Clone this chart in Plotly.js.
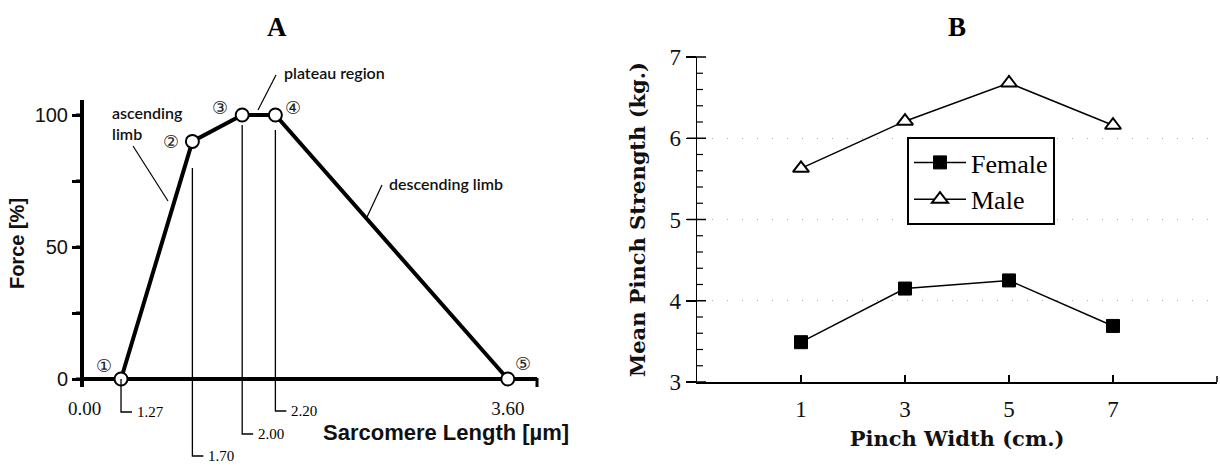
<!DOCTYPE html>
<html><head><meta charset="utf-8">
<script src="https://cdn.plot.ly/plotly-3.0.1.min.js"></script>
<style>html,body{margin:0;padding:0;background:#fff}#chart{width:1220px;height:466px}</style>
</head><body><div id="chart"></div>
<script>
// ---------- Panel A data ----------
const sarcomereLength = [1.27, 1.70, 2.00, 2.20, 3.60];
const forcePct = [0, 90, 100, 100, 0];
const pointLabels = ['①', '②', '③', '④', '⑤'];
const dropLabels = ['1.27', '1.70', '2.00', '2.20'];
const xTickTextA = ['0.00', '3.60'];
const yTickValsA = [0, 25, 50, 75, 100];
const yTickTextA = ['0', '', '50', '', '100'];
// ---------- Panel B data ----------
const pinchWidth = [1, 3, 5, 7];
const femaleStrength = [3.49, 4.15, 4.25, 3.69];
const maleStrength = [5.63, 6.21, 6.68, 6.16];
const yTickValsB = [3, 4, 5, 6, 7];
const yMinorValsB = [3.2, 3.4, 3.6, 3.8, 4.2, 4.4, 4.6, 4.8, 5.2, 5.4, 5.6, 5.8, 6.2, 6.4, 6.6, 6.8];

const W = 1220, H = 466;
const px = v => v / W;
const py = v => 1 - v / H;

const serif = 'Liberation Serif, Times New Roman, serif';
const serifB = 'DejaVu Serif, Liberation Serif, serif';
const sans = 'Liberation Sans, Arial, sans-serif';
const human = 'Lato, Open Sans, sans-serif';
const circ = 'DejaVu Sans, Noto Sans CJK JP, sans-serif';

const xA0 = 1.047, xA1 = 3.776;
const yRangeA = [-3.03, 105.68], yDomA = [py(387), py(100)];
const yRangeB = [3, 7], yDomB = [py(382), py(57)];
const xRangeB = [-1, 9], xDomB = [px(697), px(1217)];
const toDom = (v, r, d) => d[0] + (v - r[0]) / (r[1] - r[0]) * (d[1] - d[0]);

const traces = [
  {x: sarcomereLength, y: forcePct, xaxis: 'x', yaxis: 'y', mode: 'lines+markers',
   line: {color: '#000', width: 4}, showlegend: false, hoverinfo: 'skip',
   marker: {symbol: 'circle', size: 13, color: '#fff', line: {color: '#000', width: 2}}},
  {x: pinchWidth, y: femaleStrength, xaxis: 'x2', yaxis: 'y2', mode: 'lines+markers', name: 'Female',
   line: {color: '#000', width: 1.5},
   marker: {symbol: 'square', size: 13, color: '#000', line: {color: '#000', width: 1}}},
  {x: pinchWidth, y: maleStrength, xaxis: 'x2', yaxis: 'y2', mode: 'lines+markers', name: 'Male',
   line: {color: '#000', width: 1.5},
   marker: {symbol: 'triangle-up', size: 14, color: '#fff', line: {color: '#000', width: 2}}}
];

const shapes = [];
const annotations = [];

// tick marks (axis decoration), positioned from the axes' ranges and domains
const tickLine = (x0, x1, y0, y1, w) =>
  shapes.push({type: 'line', xref: 'paper', yref: 'paper', x0, x1, y0, y1, line: {color: '#000', width: w}});
yTickValsA.forEach(v => { const y = toDom(v, yRangeA, yDomA); tickLine(px(76), px(84), y, y, 3); });
yTickValsB.forEach(v => { const y = toDom(v, yRangeB, yDomB); tickLine(px(687), px(706), y, y, 1.5); });
yMinorValsB.forEach(v => { const y = toDom(v, yRangeB, yDomB); tickLine(px(697), px(703), y, y, 1.2); });
pinchWidth.forEach(v => { const x = toDom(v, xRangeB, xDomB); tickLine(x, x, py(382), py(375), 1.5); });
tickLine(px(1217), px(1217), py(382), py(376), 1.5);
// small end tick of the x axis in A
tickLine(px(537), px(537), py(378), py(387), 3);

// drop lines (vertical + hook) from each length value
const dropTop = [379, 168, 125, 130];
const dropBot = [412, 456, 434, 411];
const hook = 0.066;
dropLabels.forEach((lab, i) => {
  const xv = sarcomereLength[i];
  shapes.push({type: 'path', xref: 'x', yref: 'paper',
    path: `M ${xv},${py(dropTop[i])} L ${xv},${py(dropBot[i])} L ${xv + hook},${py(dropBot[i])}`,
    line: {color: '#000', width: 1.3}});
  annotations.push({xref: 'x', yref: 'paper', x: xv + hook, y: py(dropBot[i]), text: lab,
    showarrow: false, xanchor: 'left', yanchor: 'middle', xshift: 3,
    font: {family: serif, size: 15, color: '#000'}});
});

// circled point labels
const shiftX = [-17, -21, -22, 18, 15];
const shiftY = [14, 0, 8, 8, 16];
pointLabels.forEach((lab, i) => {
  annotations.push({xref: 'x', yref: 'y', x: sarcomereLength[i], y: forcePct[i], text: lab,
    showarrow: false, xshift: shiftX[i], yshift: shiftY[i],
    font: {family: circ, size: 18, color: '#222'}});
});

// leader lines for region notes
[[133, 146, 168, 201], [276, 75, 258, 110], [382, 185, 367, 217]].forEach(s => {
  shapes.push({type: 'line', xref: 'paper', yref: 'paper', x0: px(s[0]), y0: py(s[1]), x1: px(s[2]), y1: py(s[3]),
    line: {color: '#000', width: 1.2}});
});

const noteFont = {family: human, size: 16, color: '#111', weight: 600};
annotations.push(
  {xref: 'paper', yref: 'paper', x: px(110), y: py(123), text: 'ascending<br>limb', align: 'left',
   showarrow: false, xanchor: 'left', yanchor: 'middle', font: noteFont},
  {xref: 'paper', yref: 'paper', x: px(282), y: py(72), text: 'plateau region',
   showarrow: false, xanchor: 'left', yanchor: 'middle', font: noteFont},
  {xref: 'paper', yref: 'paper', x: px(387), y: py(183), text: 'descending limb',
   showarrow: false, xanchor: 'left', yanchor: 'middle', font: noteFont},
  {xref: 'paper', yref: 'paper', x: px(446), y: py(432), text: 'Sarcomere Length [µm]',
   showarrow: false, xanchor: 'center', yanchor: 'middle', font: {family: sans, size: 22, color: '#111', weight: 700}},
  {xref: 'paper', yref: 'paper', x: px(277), y: py(27), text: 'A',
   showarrow: false, xanchor: 'center', yanchor: 'middle', font: {family: serif, size: 27, color: '#000', weight: 700}},
  {xref: 'paper', yref: 'paper', x: px(957), y: py(27), text: 'B',
   showarrow: false, xanchor: 'center', yanchor: 'middle', font: {family: serif, size: 27, color: '#000', weight: 700}}
);

const layout = {
  width: W, height: H,
  margin: {l: 0, r: 0, t: 0, b: 0},
  paper_bgcolor: '#fff', plot_bgcolor: '#fff',
  showlegend: true,
  legend: {x: px(907), y: py(137), xanchor: 'left', yanchor: 'top',
    bgcolor: '#fff', bordercolor: '#000', borderwidth: 2,
    font: {family: serif, size: 26, color: '#000'}, tracegroupgap: 0,
    itemwidth: 52},
  xaxis: {domain: [px(84), px(537)], anchor: 'y', range: [xA0, xA1],
    showline: false, zeroline: false, showgrid: false,
    tickmode: 'array', tickvals: [xA0 + 0.003, sarcomereLength[4]], ticktext: xTickTextA,
    ticks: '', ticklabelstandoff: 8,
    tickfont: {family: serif, size: 19, color: '#111'}},
  yaxis: {domain: yDomA, anchor: 'x', range: yRangeA,
    showline: true, linecolor: '#000', linewidth: 4,
    zeroline: true, zerolinecolor: '#000', zerolinewidth: 4, showgrid: false,
    tickmode: 'array', tickvals: yTickValsA, ticktext: yTickTextA,
    ticks: 'outside', ticklen: 8, tickwidth: 3, tickcolor: '#000',
    tickfont: {family: sans, size: 20, color: '#111'},
    title: {text: 'Force [%]', font: {family: sans, size: 20, color: '#111', weight: 700}, standoff: 6}},
  xaxis2: {domain: xDomB, anchor: 'y2', range: xRangeB,
    showline: true, linecolor: '#000', linewidth: 1.5, zeroline: false, showgrid: false,
    tickmode: 'array', tickvals: pinchWidth, ticks: 'inside', ticklen: 7, tickwidth: 1.5, tickcolor: '#000',
    ticklabelstandoff: 6,
    tickfont: {family: serif, size: 23, color: '#111'},
    title: {text: 'Pinch Width (cm.)', font: {family: serifB, size: 21, color: '#111', weight: 700}, standoff: 10}},
  yaxis2: {domain: yDomB, anchor: 'x2', range: yRangeB,
    showline: true, linecolor: '#000', linewidth: 1.5, zeroline: false,
    showgrid: true, gridcolor: '#aaa', gridwidth: 1, griddash: '1px,14px',
    tickmode: 'array', tickvals: yTickValsB, ticks: 'outside', ticklen: 10, tickwidth: 1.5, tickcolor: '#000',
    tickfont: {family: serif, size: 23, color: '#111'},
    title: {text: 'Mean Pinch Strength (kg.)', font: {family: serifB, size: 21, color: '#111', weight: 700}, standoff: 18}},
  shapes: shapes,
  annotations: annotations
};

Plotly.newPlot('chart', traces, layout, {displayModeBar: false, staticPlot: true});
</script>
</body></html>
